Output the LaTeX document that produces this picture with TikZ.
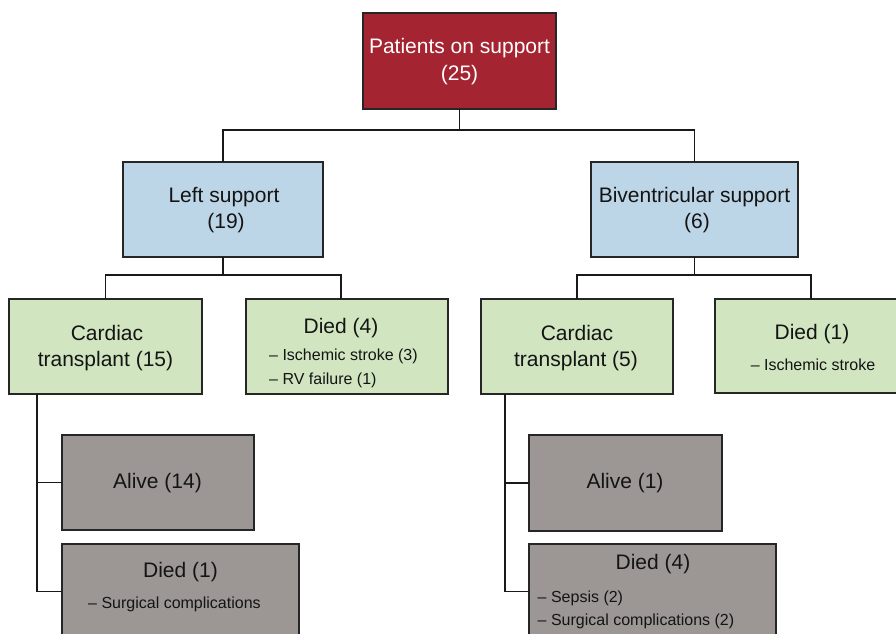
\documentclass[tikz,border=0pt]{standalone}
\usepackage{fontspec}
\setmainfont{Liberation Sans}
\definecolor{topred}{RGB}{164,37,49}
\definecolor{lblue}{RGB}{189,214,231}
\definecolor{lgreen}{RGB}{208,229,192}
\definecolor{mgray}{RGB}{156,151,148}
\definecolor{txt}{RGB}{20,20,20}
\newcommand\lgfont{\fontsize{21}{26}\selectfont}
\newcommand\smfont{\fontsize{16}{24}\selectfont}
\begin{document}
\begin{tikzpicture}[x=1pt,y=-1pt,
  box/.style={draw=black!85,line width=1.3pt,anchor=north west,inner sep=0pt,outer sep=0pt},
  conn/.style={draw=black!90,line width=1.2pt},
  lbig/.style={inner sep=0pt,anchor=base,font=\lgfont,text=txt},
  lsmall/.style={inner sep=0pt,anchor=base west,font=\smfont,text=txt},
  lsmallc/.style={inner sep=0pt,anchor=base,font=\smfont,text=txt}]
\useasboundingbox (0,0) rectangle (896,633);
\clip (0,0) rectangle (896,633);
% boxes
\node[box,fill=topred,minimum width=193pt,minimum height=96pt] (top) at (363,13) {};
\node[box,fill=lblue,minimum width=200pt,minimum height=95pt] (left) at (123,162) {};
\node[box,fill=lblue,minimum width=207pt,minimum height=95pt] (biv) at (591,162) {};
\node[box,fill=lgreen,minimum width=193pt,minimum height=95pt] (ct15) at (9,299) {};
\node[box,fill=lgreen,minimum width=202pt,minimum height=95pt] (d4) at (246,299) {};
\node[box,fill=lgreen,minimum width=192pt,minimum height=95pt] (ct5) at (481,299) {};
\node[box,fill=lgreen,minimum width=192pt,minimum height=94pt] (d1r) at (715,299) {};
\node[box,fill=mgray,minimum width=192pt,minimum height=95pt] (alive14) at (62,435) {};
\node[box,fill=mgray,minimum width=237pt,minimum height=95pt] (d1l) at (62,544) {};
\node[box,fill=mgray,minimum width=193pt,minimum height=96pt] (alive1) at (529,435) {};
\node[box,fill=mgray,minimum width=247pt,minimum height=95pt] (d4r) at (529,544) {};
% connectors
\draw[conn] (top.south) -- ++(0,21) coordinate (j0);
\draw[conn] (left.north) |- (j0) -| (biv.north);
\draw[conn] (left.south) -- ++(0,18) coordinate (j1);
\draw[conn] (ct15.north) |- (j1) -| ([xshift=-6pt]d4.north);
\draw[conn] (biv.south) -- ++(0,18) coordinate (j2);
\draw[conn] (ct5.north) |- (j2) -| (d1r.north);
\coordinate (v1) at ([xshift=28pt]ct15.south west);
\draw[conn] (v1) |- (d1l.west);
\draw[conn] (alive14.west) -- (alive14.west -| v1);
\coordinate (v2) at ([xshift=24pt]ct5.south west);
\draw[conn] (v2) |- (d4r.west);
\draw[conn] (alive1.west) -- (alive1.west -| v2);
% texts
\node[lbig,text=white] (t1) at (459.5,53) {Patients on support};
\node[lbig,text=white] (t2) at (459.5,80) {(25)};
\node[lbig] (t3) at (224,202) {Left support};
\node[lbig] (t4) at (226,228) {(19)};
\node[lbig] (t5) at (694.5,202) {Biventricular support};
\node[lbig] (t6) at (697,228) {(6)};
\node[lbig] (t7) at (107,340) {Cardiac};
\node[lbig] (t8) at (105.5,366) {transplant (15)};
\node[lbig] (t9) at (341,333) {Died (4)};
\node[lsmall] (t10) at (269,360) {-- Ischemic stroke (3)};
\node[lsmall] (t11) at (269,384) {-- RV failure (1)};
\node[lbig] (t12) at (577,340) {Cardiac};
\node[lbig] (t13) at (576,366) {transplant (5)};
\node[lbig] (t14) at (812,339) {Died (1)};
\node[lsmallc] (t15) at (813,370) {-- Ischemic stroke};
\node[lbig] (t16) at (157.5,488) {Alive (14)};
\node[lbig] (t17) at (180.5,577) {Died (1)};
\node[lsmall] (t18) at (88,608) {-- Surgical complications};
\node[lbig] (t19) at (625,488) {Alive (1)};
\node[lbig] (t20) at (653,569.5) {Died (4)};
\node[lsmall] (t21) at (537.5,602) {-- Sepsis (2)};
\node[lsmall] (t22) at (537.5,625) {-- Surgical complications (2)};
\end{tikzpicture}
\end{document}
